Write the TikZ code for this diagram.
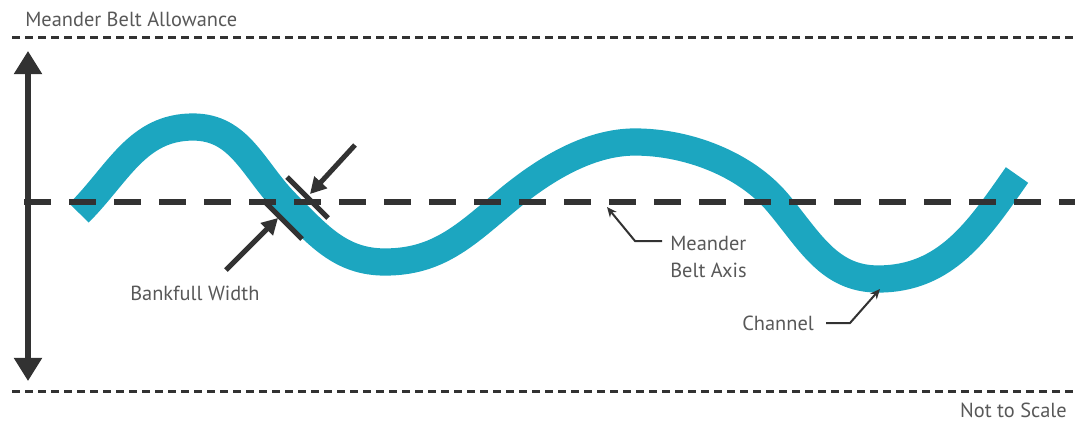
\documentclass[tikz,border=0pt]{standalone}
\usepackage{fontspec}
\setmainfont{PT Sans}
\usetikzlibrary{arrows.meta}
\definecolor{channelblue}{RGB}{28,166,192}
\definecolor{inkgray}{RGB}{50,50,50}
\definecolor{textgray}{RGB}{88,88,88}
\tikzset{
  channel/.style={draw=channelblue, line width=0.68cm},
  beltline/.style={draw=inkgray, line width=0.075cm, dash pattern=on 0.2cm off 0.125cm},
  axisline/.style={draw=inkgray, line width=0.15cm, dash pattern=on 0.675cm off 0.45cm},
  spanarrow/.style={draw=inkgray, fill=inkgray, line width=0.13cm,
                    {Triangle[width=0.68cm,length=0.58cm]}-{Triangle[width=0.68cm,length=0.58cm]}},
  bankbar/.style={draw=inkgray, line width=0.125cm},
  widtharrow/.style={draw=inkgray, line width=0.125cm, -{Triangle[width=0.42cm,length=0.4cm]}},
  leader/.style={draw=inkgray, line width=0.05cm, -{Stealth[width=0.22cm,length=0.25cm]}},
  lbl/.style={text=textgray, inner sep=0pt, align=left},
}
\begin{document}
\begin{tikzpicture}[x=0.025cm, y=-0.025cm, font=\fontsize{14.5}{19}\selectfont]
  \useasboundingbox (0,0) rectangle (1082,423);

  % edges of the meander belt
  \coordinate (topl) at (12,37);  \coordinate (topr) at (1075,37);
  \coordinate (botl) at (12,391); \coordinate (botr) at (1075,391);
  \draw[beltline] (topl) -- (topr);
  \draw[beltline] (botl) -- (botr);

  % the channel
  \draw[channel] (79,213) to[out=45,in=180] (193,127) to[out=0,in=135] (287,204)
    to[out=-45,in=180] (385,262) to[out=0,in=-140] (505,202)
    to[out=40,in=180,looseness=0.85] (635,142) to[out=0,in=130,looseness=0.85] (778,203)
    to[out=-50,in=180] (878,279) to[out=0,in=-125] (1017,175);

  % belt axis
  \coordinate (axl) at (24,202); \coordinate (axr) at (1075,202);
  \draw[axisline] (axl) -- (axr);

  % belt width
  \coordinate (spantop) at (28,51); \coordinate (spanbot) at (28,381);
  \draw[spanarrow] (spantop) -- (spanbot);

  % bankfull width
  \coordinate (barAa) at (287,177); \coordinate (barAb) at (328,218);
  \coordinate (barBa) at (263,200); \coordinate (barBb) at (302,239);
  \draw[bankbar] (barAa) -- (barAb);
  \draw[bankbar] (barBa) -- (barBb);
  \coordinate (wAfrom) at (355,145); \coordinate (wAto) at (310,194);
  \coordinate (wBfrom) at (226,270); \coordinate (wBto) at (278,218);
  \draw[widtharrow] (wAfrom) -- (wAto);
  \draw[widtharrow] (wBfrom) -- (wBto);

  % labels
  \node[lbl, anchor=west] (allow) at (25,19) {Meander Belt Allowance};
  \node[lbl, anchor=east] (noscale) at (1067,410) {Not to Scale};
  \node[lbl, anchor=west] (bank) at (130,293) {Bankfull Width};
  \node[lbl, anchor=west] (axis) at (670,257) {Meander\\Belt Axis};
  \node[lbl, anchor=west] (chan) at (742,323) {Channel};

  % leaders
  \coordinate (axbend) at (635,241); \coordinate (axtip) at (607,207);
  \draw[leader, shorten <=0.2cm] (axis.west |- axbend) -- (axbend) -- (axtip);
  \coordinate (chbend) at (850,323); \coordinate (chtip) at (880,289);
  \draw[leader, shorten <=0.3cm] (chan.east) -- (chbend) -- (chtip);
\end{tikzpicture}
\end{document}
